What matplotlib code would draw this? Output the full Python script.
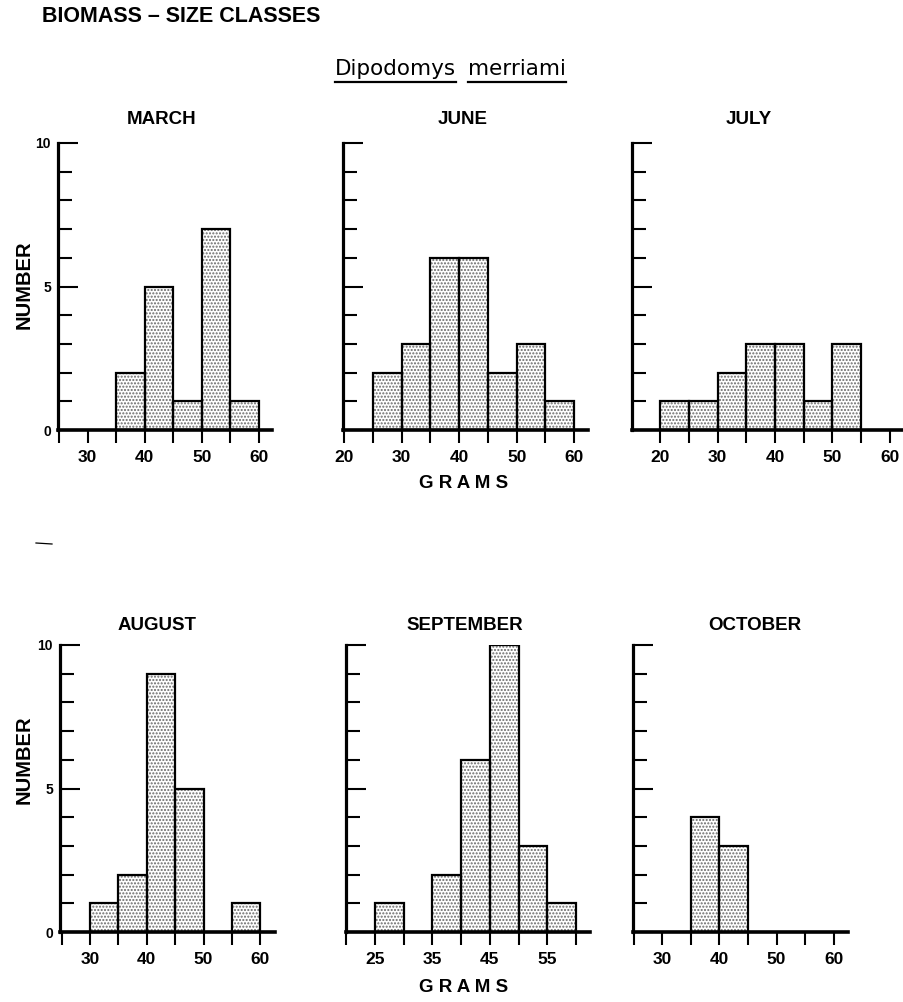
import numpy as np
import matplotlib.pyplot as plt
from matplotlib.lines import Line2D

plt.rcParams['font.family'] = ['Liberation Sans', 'DejaVu Sans']
plt.rcParams['hatch.linewidth'] = 1.0

W, H = 904, 1002

# size classes (left edge of each 5 g bin) and counts per month
bin_left = [20, 25, 30, 35, 40, 45, 50, 55]
march = [0, 0, 0, 2, 5, 1, 7, 1]
june = [0, 2, 3, 6, 6, 2, 3, 1]
july = [1, 1, 2, 3, 3, 1, 3, 0]
august = [0, 0, 1, 2, 9, 5, 0, 1]
september = [0, 1, 0, 2, 6, 10, 3, 1]
october = [0, 0, 0, 4, 3, 0, 0, 0]

months = ['MARCH', 'JUNE', 'JULY', 'AUGUST', 'SEPTEMBER', 'OCTOBER']
counts = [march, june, july, august, september, october]
tick_labels = [[30, 40, 50, 60], [20, 30, 40, 50, 60], [20, 30, 40, 50, 60],
               [30, 40, 50, 60], [25, 35, 45, 55], [30, 40, 50, 60]]

# panel geometry in pixels: left, right, baseline, xlim
panels = [
    (58, 272, 430, (24.8, 62.3)),
    (343, 588, 430, (19.8, 62.4)),
    (632, 902, 430, (15.1, 62.1)),
    (60, 275, 932, (24.7, 62.6)),
    (346, 590, 932, (20.0, 62.4)),
    (633, 848, 932, (24.9, 62.5)),
]
title_x = [162, 463, 749, 157, 465, 755]
panel_h = 287

fig = plt.figure(figsize=(W / 100, H / 100), dpi=100)


def fx(x):
    return x / W


def fy(y):
    return 1 - y / H


for i, (l, r, base, xlim) in enumerate(panels):
    ax = fig.add_axes([fx(l), fy(base), (r - l) / W, panel_h / H])
    c = np.array(counts[i])
    keep = c > 0
    lefts = np.array(bin_left)[keep]
    ax.bar(lefts, c[keep], width=5, align='edge', facecolor='white',
           edgecolor='#6a6a6a', hatch='.....', linewidth=0)
    ax.bar(lefts, c[keep], width=5, align='edge', fill=False,
           edgecolor='black', linewidth=1.6)
    ax.set_xlim(*xlim)
    ax.set_ylim(0, 10)
    for s in ['top', 'right']:
        ax.spines[s].set_visible(False)
    ax.spines['left'].set_linewidth(2.3)
    ax.spines['bottom'].set_linewidth(2.6)
    ax.spines['left'].set_capstyle('projecting')
    ax.spines['bottom'].set_capstyle('projecting')

    # x ticks every 5 g, labels only where printed
    lo = int(np.ceil(xlim[0] / 5.0) * 5)
    ticks = list(range(lo, 61, 5))
    ax.set_xticks(ticks)
    ax.set_xticklabels([str(t) if t in tick_labels[i] else '' for t in ticks])
    ax.tick_params(axis='x', direction='out', length=9.5, width=1.5,
                   pad=5, labelsize=12.5)
    for lab in ax.get_xticklabels():
        lab.set_fontweight('bold')

    ax.set_yticks([0, 5, 10])
    ax.set_yticks([1, 2, 3, 4, 6, 7, 8, 9], minor=True)
    ax.tick_params(axis='y', which='major', direction='in', length=14.5,
                   width=1.5, pad=5, labelsize=10)
    ax.tick_params(axis='y', which='minor', direction='in', length=10,
                   width=1.5)
    for t in ax.yaxis.get_major_ticks() + ax.yaxis.get_minor_ticks():
        t.tick1line.set_clip_on(False)
    if i % 3 == 0:
        for lab in ax.get_yticklabels():
            lab.set_fontweight('bold')
    else:
        ax.set_yticklabels([])
    ax.patch.set_visible(False)

    ty = 120 if i < 3 else 625
    fig.text(fx(title_x[i]), fy(ty), months[i], ha='center', va='center',
             fontsize=13.5, fontweight='bold')

for y in (285, 760):
    fig.text(fx(24), fy(y), 'NUMBER', rotation=90, ha='center', va='center',
             fontsize=14.5, fontweight='bold')
for y in (483, 988):
    fig.text(fx(464), fy(y), 'G R A M S', ha='center', va='center',
             fontsize=13.5, fontweight='bold')

fig.text(fx(42), fy(17), 'BIOMASS \u2013 SIZE CLASSES', ha='left',
         va='center', fontsize=15.5, fontweight='bold')

# species name, each word underlined
w1 = fig.text(fx(335), fy(75), 'Dipodomys', ha='left', va='baseline',
              fontsize=15.5, family='DejaVu Sans')
w2 = fig.text(fx(468), fy(75), 'merriami', ha='left', va='baseline',
              fontsize=15.5, family='DejaVu Sans')
fig.canvas.draw()
for w in (w1, w2):
    bb = w.get_window_extent()
    fig.add_artist(Line2D([bb.x0 / W, bb.x1 / W], [fy(82), fy(82)],
                          color='black', linewidth=1.6))

# small stray mark left of the lower panels
fig.add_artist(Line2D([fx(36), fx(52)], [fy(543), fy(544)], color='black',
                      linewidth=0.9))

fig.savefig('out.png', dpi=100, facecolor='white')
